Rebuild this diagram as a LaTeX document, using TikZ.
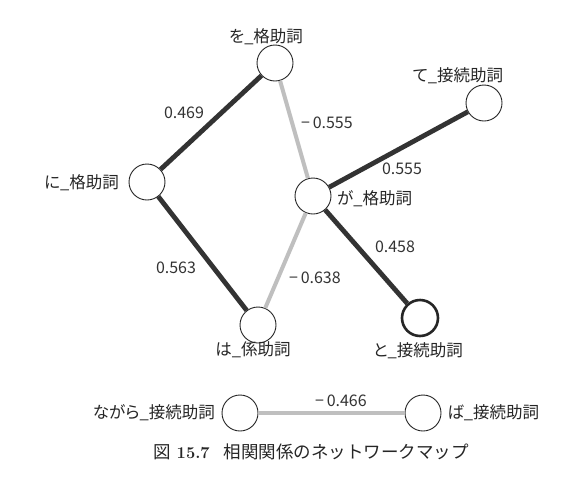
\documentclass[tikz,border=0pt]{standalone}
\usepackage{fontspec}
\newfontfamily\jp[RawFeature=+palt]{Noto Sans CJK JP}
\newfontfamily\jpcap{Noto Sans CJK JP}
\begin{document}
\begin{tikzpicture}[x=1pt,y=-1pt,
  wnode/.style={circle,draw=black!85,line width=0.9pt,fill=white,minimum size=36pt,inner sep=0pt},
  lbl/.style={font=\jp\fontsize{16.5}{18}\selectfont,text=black!85,inner sep=0pt},
  num/.style={font=\jp\fontsize{16}{18}\selectfont,text=black!80,inner sep=0pt},
  strong/.style={line width=4.8pt,draw=black!80},
  weak/.style={line width=4pt,draw=black!25}]
\useasboundingbox (0,0) rectangle (565,480);
\fill[white] (0,0) rectangle (565,480);
% nodes
\node[wnode] (wo) at (275,63) {};
\node[wnode] (ni) at (147,182) {};
\node[wnode] (ga) at (313,196) {};
\node[wnode] (ha) at (258,325) {};
\node[wnode,line width=2.6pt] (to) at (420,318) {};
\node[wnode] (te) at (484,103) {};
\node[wnode] (nagara) at (240,413) {};
\node[wnode] (ba) at (423,413) {};
% labels
\node[lbl] (lwo) at (266,37) {を\_格助詞};
\node[lbl,anchor=east] (lni) at (119,183) {に\_格助詞};
\node[lbl,anchor=west] (lga) at (337,199) {が\_格助詞};
\node[lbl] (lha) at (253,350) {は\_係助詞};
\node[lbl] (lto) at (418,351) {と\_接続助詞};
\node[lbl] (lte) at (458,76) {て\_接続助詞};
\node[lbl,anchor=east] (lnagara) at (215,413) {ながら\_接続助詞};
\node[lbl,anchor=west] (lba) at (447,413) {ば\_接続助詞};
% edges
\draw[strong] (ni) -- (wo);
\draw[strong] (ni) -- (ha);
\draw[strong] (ga) -- (te);
\draw[strong] (ga) -- (to);
\draw[weak] (wo) -- (ga);
\draw[weak] (ga) -- (ha);
\draw[weak] (nagara) -- (ba);
% edge labels
\node[num] (n1) at (184,113) {0.469};
\node[num] (n2) at (327,123) {−\,0.555};
\node[num] (n3) at (402,169) {0.555};
\node[num] (n4) at (395,247) {0.458};
\node[num] (n5) at (315,278) {−\,0.638};
\node[num] (n6) at (176,268) {0.563};
\node[num] (n7) at (341,401) {−\,0.466};
% caption
\node[inner sep=0pt,text=black!85] (cap) at (311,452) {{\jpcap\fontsize{17.5}{19}\selectfont 図}\hspace{6pt}{\fontsize{16.5}{19}\selectfont\bfseries 15.7}\hspace{14pt}{\jpcap\fontsize{17.5}{19}\selectfont 相関関係のネットワークマップ}};
\end{tikzpicture}
\end{document}
